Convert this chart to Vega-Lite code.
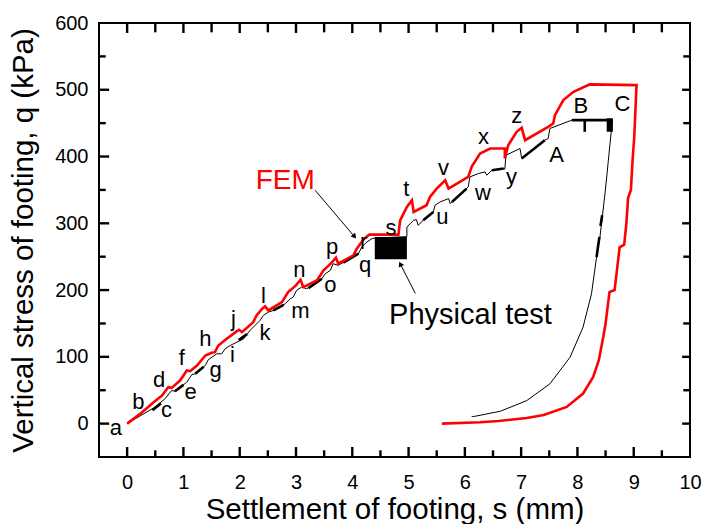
{
  "$schema": "https://vega.github.io/schema/vega-lite/v6.json",
  "width": 591,
  "height": 434,
  "autosize": "none",
  "padding": {"left": 99, "top": 23, "right": 16, "bottom": 67},
  "background": "white",
  "config": {
    "view": {"stroke": "black", "strokeWidth": 2},
    "font": "Liberation Sans",
    "axis": {
      "grid": false, "domain": false, "ticks": false, "tickSize": 0,
      "labelColor": "black", "titleColor": "black",
      "labelFont": "Liberation Sans", "titleFont": "Liberation Sans",
      "labelFontSize": 20, "titleFontSize": 29.5, "titleFontWeight": "normal",
      "labelFlush": false, "labelOverlap": false
    }
  },
  "datasets": {
    "fem": [
      {"i":1,"s":0,"q":0},{"i":2,"s":0.25,"q":16},{"i":3,"s":0.47,"q":32},{"i":4,"s":0.62,"q":42},
      {"i":5,"s":0.73,"q":54.5},{"i":6,"s":0.79,"q":53.5},{"i":7,"s":0.94,"q":64.5},{"i":8,"s":1.06,"q":79.5},
      {"i":9,"s":1.12,"q":78.5},{"i":10,"s":1.24,"q":87},{"i":11,"s":1.39,"q":102},{"i":12,"s":1.5,"q":106},
      {"i":13,"s":1.56,"q":107},{"i":14,"s":1.62,"q":117},{"i":15,"s":1.77,"q":127},{"i":16,"s":1.95,"q":138.5},
      {"i":17,"s":1.99,"q":140.5},{"i":18,"s":2.04,"q":137},{"i":19,"s":2.24,"q":152},{"i":20,"s":2.3,"q":162},
      {"i":21,"s":2.4,"q":172},{"i":22,"s":2.45,"q":175.5},{"i":23,"s":2.51,"q":169.5},{"i":24,"s":2.75,"q":182},
      {"i":25,"s":2.86,"q":197},{"i":26,"s":3.0,"q":207},{"i":27,"s":3.08,"q":215.5},{"i":28,"s":3.13,"q":204.5},
      {"i":29,"s":3.37,"q":214.5},{"i":30,"s":3.49,"q":229.5},{"i":31,"s":3.62,"q":240},{"i":32,"s":3.71,"q":248.5},
      {"i":33,"s":3.75,"q":239.5},{"i":34,"s":4.02,"q":252},{"i":35,"s":4.08,"q":262},{"i":36,"s":4.2,"q":276},
      {"i":37,"s":4.3,"q":283},{"i":38,"s":4.82,"q":283},{"i":39,"s":4.85,"q":304.5},{"i":40,"s":4.97,"q":324.5},
      {"i":41,"s":5.06,"q":334.5},{"i":42,"s":5.09,"q":317},{"i":43,"s":5.32,"q":327},{"i":44,"s":5.38,"q":339.5},
      {"i":45,"s":5.5,"q":352},{"i":46,"s":5.65,"q":364.5},{"i":47,"s":5.71,"q":352},{"i":48,"s":6.06,"q":369.5},
      {"i":49,"s":6.12,"q":384.5},{"i":50,"s":6.27,"q":404.5},{"i":51,"s":6.45,"q":412},{"i":52,"s":6.71,"q":412},
      {"i":53,"s":6.71,"q":397},{"i":54,"s":6.77,"q":417},{"i":55,"s":6.92,"q":437},{"i":56,"s":7.01,"q":443},
      {"i":57,"s":7.07,"q":424.5},{"i":58,"s":7.48,"q":444.5},{"i":59,"s":7.57,"q":449.5},{"i":60,"s":7.6,"q":462},
      {"i":61,"s":7.75,"q":484.5},{"i":62,"s":7.93,"q":497},{"i":63,"s":8.22,"q":508},{"i":64,"s":9.05,"q":507},
      {"i":65,"s":9.01,"q":430},{"i":66,"s":8.98,"q":395},{"i":67,"s":8.95,"q":350},{"i":68,"s":8.9,"q":338},
      {"i":69,"s":8.87,"q":300},{"i":70,"s":8.83,"q":268},{"i":71,"s":8.75,"q":264},{"i":72,"s":8.66,"q":200},
      {"i":73,"s":8.57,"q":197},{"i":74,"s":8.5,"q":150},{"i":75,"s":8.46,"q":130},{"i":76,"s":8.38,"q":95},
      {"i":77,"s":8.28,"q":70},{"i":78,"s":8.1,"q":45},{"i":79,"s":7.81,"q":25},{"i":80,"s":7.4,"q":13},
      {"i":81,"s":7.1,"q":8.5},{"i":82,"s":6.6,"q":4},{"i":83,"s":6.27,"q":2},{"i":84,"s":5.59,"q":0}
    ],
    "test": [
      {"i":1,"s":0,"q":0},{"i":2,"s":0.29,"q":14.5},{"i":3,"s":0.47,"q":23.5},{"i":4,"s":0.67,"q":37},
      {"i":5,"s":0.79,"q":49.5},{"i":6,"s":0.85,"q":48.5},{"i":7,"s":1.06,"q":62},{"i":8,"s":1.15,"q":73.5},
      {"i":9,"s":1.21,"q":74.5},{"i":10,"s":1.39,"q":87},{"i":11,"s":1.44,"q":95.5},{"i":12,"s":1.59,"q":104.5},
      {"i":13,"s":1.68,"q":104.5},{"i":14,"s":1.74,"q":112},{"i":15,"s":1.83,"q":117},{"i":16,"s":2.07,"q":127},
      {"i":17,"s":2.13,"q":134},{"i":18,"s":2.2,"q":141},{"i":19,"s":2.36,"q":154.5},{"i":20,"s":2.42,"q":162},
      {"i":21,"s":2.51,"q":167},{"i":22,"s":2.6,"q":169.5},{"i":23,"s":2.81,"q":179.5},{"i":24,"s":2.9,"q":187},
      {"i":25,"s":2.95,"q":189.5},{"i":26,"s":3.01,"q":199.5},{"i":27,"s":3.1,"q":204.5},{"i":28,"s":3.19,"q":202},
      {"i":29,"s":3.46,"q":217},{"i":30,"s":3.52,"q":224.5},{"i":31,"s":3.61,"q":229.5},{"i":32,"s":3.66,"q":239.5},
      {"i":33,"s":3.75,"q":237},{"i":34,"s":4.11,"q":254.5},{"i":35,"s":4.17,"q":264.5},{"i":36,"s":4.26,"q":272},
      {"i":37,"s":4.35,"q":277},{"i":38,"s":4.4,"q":278},{"i":39,"s":4.97,"q":280},{"i":40,"s":4.97,"q":294.5},
      {"i":41,"s":5.03,"q":299.5},{"i":42,"s":5.09,"q":304.5},{"i":43,"s":5.14,"q":305.5},{"i":44,"s":5.17,"q":297},
      {"i":45,"s":5.26,"q":304.5},{"i":46,"s":5.44,"q":317},{"i":47,"s":5.47,"q":327},{"i":48,"s":5.56,"q":332},
      {"i":49,"s":5.71,"q":337},{"i":50,"s":5.74,"q":329.5},{"i":51,"s":6.06,"q":354.5},{"i":52,"s":6.09,"q":369.5},
      {"i":53,"s":6.24,"q":374.5},{"i":54,"s":6.36,"q":377},{"i":55,"s":6.39,"q":372},{"i":56,"s":6.48,"q":379.5},
      {"i":57,"s":6.69,"q":382},{"i":58,"s":6.71,"q":381},{"i":59,"s":6.73,"q":402},{"i":60,"s":6.98,"q":412},
      {"i":61,"s":7.01,"q":397},{"i":62,"s":7.42,"q":424.5},{"i":63,"s":7.48,"q":427},{"i":64,"s":7.51,"q":442},
      {"i":65,"s":7.9,"q":454.5},{"i":66,"s":8.62,"q":454.5},{"i":67,"s":8.6,"q":437},{"i":68,"s":8.55,"q":394.5},
      {"i":69,"s":8.49,"q":344.5},{"i":70,"s":8.4,"q":279.5},{"i":71,"s":8.34,"q":249.5},{"i":72,"s":8.25,"q":194.5},
      {"i":73,"s":8.1,"q":144.5},{"i":74,"s":7.87,"q":99.5},{"i":75,"s":7.51,"q":59.5},{"i":76,"s":7.1,"q":34.5},
      {"i":77,"s":6.63,"q":18.5},{"i":78,"s":6.15,"q":10.5},{"i":79,"s":6.12,"q":11}
    ],
    "dash": [
      {"s":0.45,"q":20,"s2":0.6,"q2":30},
      {"s":0.85,"q":48.5,"s2":1.0,"q2":58},
      {"s":1.21,"q":74.5,"s2":1.36,"q2":85},
      {"s":1.98,"q":125,"s2":2.13,"q2":134},
      {"s":2.6,"q":169.5,"s2":2.78,"q2":178},
      {"s":3.22,"q":203,"s2":3.46,"q2":217},
      {"s":3.84,"q":241,"s2":4.11,"q2":254.5},
      {"s":5.26,"q":304.5,"s2":5.44,"q2":317},
      {"s":5.77,"q":332,"s2":6.03,"q2":352},
      {"s":6.48,"q":379.5,"s2":6.69,"q2":382},
      {"s":7.01,"q":397,"s2":7.42,"q2":424.5},
      {"s":7.9,"q":454.5,"s2":8.55,"q2":454.5},
      {"s":8.13,"q":454.5,"s2":8.13,"q2":437},
      {"s":8.44,"q":312,"s2":8.41,"q2":296},
      {"s":8.39,"q":279.5,"s2":8.34,"q2":249.5}
    ],
    "ticks": [
      {"s":0,"q":-50,"s2":0,"q2":-35},{"s":1,"q":-50,"s2":1,"q2":-35},{"s":2,"q":-50,"s2":2,"q2":-35},
      {"s":3,"q":-50,"s2":3,"q2":-35},{"s":4,"q":-50,"s2":4,"q2":-35},{"s":5,"q":-50,"s2":5,"q2":-35},
      {"s":6,"q":-50,"s2":6,"q2":-35},{"s":7,"q":-50,"s2":7,"q2":-35},{"s":8,"q":-50,"s2":8,"q2":-35},
      {"s":9,"q":-50,"s2":9,"q2":-35},
      {"s":0.5,"q":-50,"s2":0.5,"q2":-40},{"s":1.5,"q":-50,"s2":1.5,"q2":-40},{"s":2.5,"q":-50,"s2":2.5,"q2":-40},
      {"s":3.5,"q":-50,"s2":3.5,"q2":-40},{"s":4.5,"q":-50,"s2":4.5,"q2":-40},{"s":5.5,"q":-50,"s2":5.5,"q2":-40},
      {"s":6.5,"q":-50,"s2":6.5,"q2":-40},{"s":7.5,"q":-50,"s2":7.5,"q2":-40},{"s":8.5,"q":-50,"s2":8.5,"q2":-40},
      {"s":9.5,"q":-50,"s2":9.5,"q2":-40},
      {"s":0,"q":600,"s2":0,"q2":585},{"s":1,"q":600,"s2":1,"q2":585},{"s":2,"q":600,"s2":2,"q2":585},
      {"s":3,"q":600,"s2":3,"q2":585},{"s":4,"q":600,"s2":4,"q2":585},{"s":5,"q":600,"s2":5,"q2":585},
      {"s":6,"q":600,"s2":6,"q2":585},{"s":7,"q":600,"s2":7,"q2":585},{"s":8,"q":600,"s2":8,"q2":585},
      {"s":9,"q":600,"s2":9,"q2":585},
      {"s":0.5,"q":600,"s2":0.5,"q2":586},{"s":1.5,"q":600,"s2":1.5,"q2":586},{"s":2.5,"q":600,"s2":2.5,"q2":586},
      {"s":3.5,"q":600,"s2":3.5,"q2":586},{"s":4.5,"q":600,"s2":4.5,"q2":586},{"s":5.5,"q":600,"s2":5.5,"q2":586},
      {"s":6.5,"q":600,"s2":6.5,"q2":586},{"s":7.5,"q":600,"s2":7.5,"q2":586},{"s":8.5,"q":600,"s2":8.5,"q2":586},
      {"s":9.5,"q":600,"s2":9.5,"q2":586},
      {"s":-0.5,"q":0,"s2":-0.32,"q2":0},{"s":-0.5,"q":100,"s2":-0.32,"q2":100},{"s":-0.5,"q":200,"s2":-0.32,"q2":200},
      {"s":-0.5,"q":300,"s2":-0.32,"q2":300},{"s":-0.5,"q":400,"s2":-0.32,"q2":400},{"s":-0.5,"q":500,"s2":-0.32,"q2":500},
      {"s":-0.5,"q":50,"s2":-0.38,"q2":50},{"s":-0.5,"q":150,"s2":-0.38,"q2":150},{"s":-0.5,"q":250,"s2":-0.38,"q2":250},
      {"s":-0.5,"q":350,"s2":-0.38,"q2":350},{"s":-0.5,"q":450,"s2":-0.38,"q2":450},{"s":-0.5,"q":550,"s2":-0.38,"q2":550},
      {"s":10,"q":0,"s2":9.86,"q2":0},{"s":10,"q":100,"s2":9.86,"q2":100},{"s":10,"q":200,"s2":9.86,"q2":200},
      {"s":10,"q":300,"s2":9.86,"q2":300},{"s":10,"q":400,"s2":9.86,"q2":400},{"s":10,"q":500,"s2":9.86,"q2":500},
      {"s":10,"q":50,"s2":9.88,"q2":50},{"s":10,"q":150,"s2":9.88,"q2":150},{"s":10,"q":250,"s2":9.88,"q2":250},
      {"s":10,"q":350,"s2":9.88,"q2":350},{"s":10,"q":450,"s2":9.88,"q2":450},{"s":10,"q":550,"s2":9.88,"q2":550}
    ],
    "boxes": [
      {"s":4.4,"q":246,"s2":4.97,"q2":279.5},
      {"s":8.52,"q":437,"s2":8.63,"q2":457.5}
    ],
    "letters": [
      {"s":-0.2,"q":-7,"t":"a"},{"s":0.2,"q":33,"t":"b"},{"s":0.7,"q":21,"t":"c"},{"s":0.57,"q":66,"t":"d"},
      {"s":1.13,"q":48,"t":"e"},{"s":0.97,"q":99,"t":"f"},{"s":1.57,"q":81,"t":"g"},{"s":1.39,"q":126,"t":"h"},
      {"s":1.87,"q":103,"t":"i"},{"s":1.89,"q":157,"t":"j"},{"s":2.45,"q":135,"t":"k"},{"s":2.42,"q":191,"t":"l"},
      {"s":3.08,"q":168,"t":"m"},{"s":3.06,"q":230,"t":"n"},{"s":3.61,"q":208,"t":"o"},{"s":3.64,"q":264,"t":"p"},
      {"s":4.23,"q":237,"t":"q"},{"s":4.2,"q":272,"t":"r"},{"s":4.69,"q":293,"t":"s"},{"s":4.96,"q":352,"t":"t"},
      {"s":5.6,"q":310,"t":"u"},{"s":5.62,"q":383,"t":"v"},{"s":6.32,"q":345,"t":"w"},{"s":6.33,"q":429,"t":"x"},
      {"s":6.83,"q":369,"t":"y"},{"s":6.92,"q":460,"t":"z"},{"s":7.63,"q":403,"t":"A"},{"s":8.06,"q":476,"t":"B"},
      {"s":8.8,"q":478,"t":"C"}
    ],
    "femlabel": [{"s":2.81,"q":364,"t":"FEM"}],
    "testlabel": [{"s":6.1,"q":162,"t":"Physical test"}],
    "arrows": [
      {"name":"fem","s":3.34,"q":349.5,"s2":4.03,"q2":281},
      {"name":"test","s":5.12,"q":195,"s2":4.86,"q2":238}
    ]
  },
  "layer": [
    {
      "data": {"name": "boxes"},
      "mark": {"type": "rect", "color": "black"},
      "encoding": {
        "x": {"field": "s", "type": "quantitative", "scale": {"domain": [-0.5, 10], "nice": false, "zero": false},
              "axis": {"orient": "bottom", "values": [0,1,2,3,4,5,6,7,8,9,10], "format": "d", "labelPadding": 15,
                       "title": "Settlement of footing, s (mm)", "titlePadding": 3}},
        "x2": {"field": "s2"},
        "y": {"field": "q", "type": "quantitative", "scale": {"domain": [-50, 600], "nice": false, "zero": false},
              "axis": {"orient": "left", "values": [0,100,200,300,400,500,600], "format": "d", "labelPadding": 11,
                       "title": "Vertical stress of footing, q (kPa)", "titlePadding": 16}},
        "y2": {"field": "q2"}
      }
    },
    {
      "data": {"name": "test"},
      "mark": {"type": "line", "color": "black", "strokeWidth": 1},
      "encoding": {
        "x": {"field": "s", "type": "quantitative"},
        "y": {"field": "q", "type": "quantitative"},
        "order": {"field": "i", "type": "quantitative"}
      }
    },
    {
      "data": {"name": "dash"},
      "mark": {"type": "rule", "color": "black", "strokeWidth": 2.6},
      "encoding": {
        "x": {"field": "s", "type": "quantitative"},
        "x2": {"field": "s2"},
        "y": {"field": "q", "type": "quantitative"},
        "y2": {"field": "q2"}
      }
    },
    {
      "data": {"name": "fem"},
      "mark": {"type": "line", "color": "#ff0000", "strokeWidth": 2.6},
      "encoding": {
        "x": {"field": "s", "type": "quantitative"},
        "y": {"field": "q", "type": "quantitative"},
        "order": {"field": "i", "type": "quantitative"}
      }
    },
    {
      "data": {"name": "arrows"},
      "mark": {"type": "rule", "color": "black", "strokeWidth": 1},
      "encoding": {
        "x": {"field": "s", "type": "quantitative"},
        "x2": {"field": "s2"},
        "y": {"field": "q", "type": "quantitative"},
        "y2": {"field": "q2"}
      }
    },
    {
      "data": {"name": "arrows"},
      "transform": [{"filter": "datum.name === 'fem'"}],
      "mark": {"type": "point", "shape": "triangle", "filled": true, "color": "black", "size": 35, "angle": 140, "opacity": 1},
      "encoding": {
        "x": {"field": "s2", "type": "quantitative"},
        "y": {"field": "q2", "type": "quantitative"}
      }
    },
    {
      "data": {"name": "arrows"},
      "transform": [{"filter": "datum.name === 'test'"}],
      "mark": {"type": "point", "shape": "triangle", "filled": true, "color": "black", "size": 35, "angle": 334, "opacity": 1},
      "encoding": {
        "x": {"field": "s2", "type": "quantitative"},
        "y": {"field": "q2", "type": "quantitative"}
      }
    },
    {
      "data": {"name": "letters"},
      "mark": {"type": "text", "font": "Liberation Sans", "fontSize": 22, "color": "black", "align": "center", "baseline": "middle"},
      "encoding": {
        "x": {"field": "s", "type": "quantitative"},
        "y": {"field": "q", "type": "quantitative"},
        "text": {"field": "t"}
      }
    },
    {
      "data": {"name": "femlabel"},
      "mark": {"type": "text", "font": "Liberation Sans", "fontSize": 28, "color": "#ff0000", "align": "center", "baseline": "middle"},
      "encoding": {
        "x": {"field": "s", "type": "quantitative"},
        "y": {"field": "q", "type": "quantitative"},
        "text": {"field": "t"}
      }
    },
    {
      "data": {"name": "testlabel"},
      "mark": {"type": "text", "font": "Liberation Sans", "fontSize": 29, "color": "black", "align": "center", "baseline": "middle"},
      "encoding": {
        "x": {"field": "s", "type": "quantitative"},
        "y": {"field": "q", "type": "quantitative"},
        "text": {"field": "t"}
      }
    },
    {
      "data": {"name": "ticks"},
      "mark": {"type": "rule", "color": "black", "strokeWidth": 2.4},
      "encoding": {
        "x": {"field": "s", "type": "quantitative"},
        "x2": {"field": "s2"},
        "y": {"field": "q", "type": "quantitative"},
        "y2": {"field": "q2"}
      }
    }
  ]
}
